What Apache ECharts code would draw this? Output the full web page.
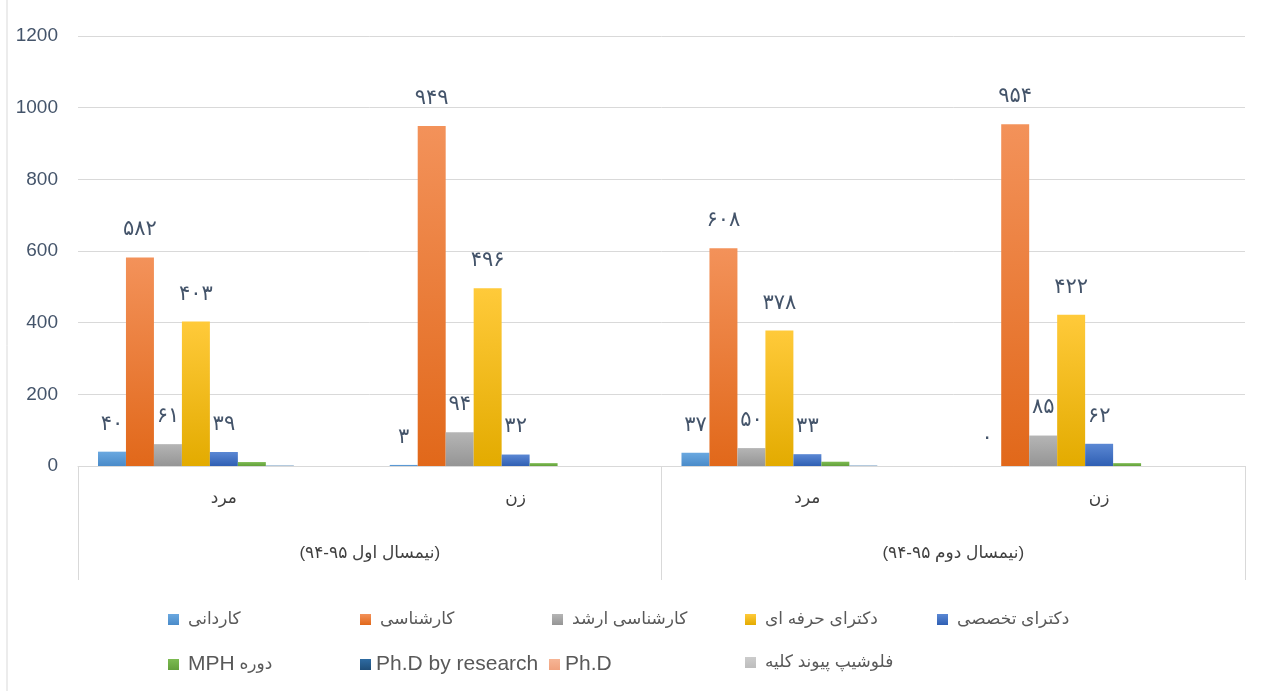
<!DOCTYPE html>
<html><head><meta charset="utf-8">
<script src="https://cdn.jsdelivr.net/npm/echarts@6/dist/echarts.min.js"></script>
<style>html,body{margin:0;padding:0;background:#fff}#main{width:1267px;height:691px}</style>
</head><body><div id="main" dir="rtl"></div>
<script>
// ---- data ----
const genders = ['مرد', 'زن', 'مرد', 'زن'];
const semesters = ['(نیمسال اول ۹۵-۹۴)', '(نیمسال دوم ۹۵-۹۴)'];
const seriesNames = ['کاردانی', 'کارشناسی', 'کارشناسی ارشد', 'دکترای حرفه ای', 'دکترای تخصصی', 'دوره MPH', 'Ph.D by research', 'Ph.D', 'فلوشیپ پیوند کلیه'];
const kardani = [40, 3, 37, 0];
const karshenasi = [582, 949, 608, 954];
const karshenasiArshad = [61, 94, 50, 85];
const doctoraHerfei = [403, 496, 378, 422];
const doctoraTakhassosi = [39, 32, 33, 62];
const mph = [11, 8, 12, 8];
const phdResearch = [1, 0, 1, 0];
const phd = [0, 0, 0, 0];
const fellowship = [0, 0, 0, 0];
const yMin = 0, yMax = 1200, yStep = 200;

const values = [kardani, karshenasi, karshenasiArshad, doctoraHerfei, doctoraTakhassosi, mph, phdResearch, phd, fellowship];
const labelled = [true, true, true, true, true, false, false, false, false];

// ---- styles ----
const grad = (a, b) => new echarts.graphic.LinearGradient(0, 0, 0, 1, [{offset: 0, color: a}, {offset: 1, color: b}]);
const colors = [
  grad('#6aa8e0', '#4a8bc9'),
  grad('#f3925a', '#e1681a'),
  grad('#b5b5b5', '#959595'),
  grad('#ffca3a', '#e3ab00'),
  grad('#5b88d4', '#2f5fb3'),
  grad('#7dbb52', '#63a03b'),
  grad('#2e6ba2', '#1f4e79'),
  grad('#f6b595', '#f1a27e'),
  grad('#cccccc', '#bdbdbd')
];
const FONT = "'Liberation Sans', 'DejaVu Sans', sans-serif";
const toFa = v => String(v).replace(/\d/g, d => '۰۱۲۳۴۵۶۷۸۹'[d]);

const legendLeft = [168, 360, 552, 745, 937, 168, 360, 549, 745];
const legendTop = [611, 611, 611, 611, 611, 654, 654, 654, 654];
const legendLatin = [false, false, false, false, false, 'mix', true, true, false];

const chart = echarts.init(document.getElementById('main'));
chart.setOption({
  animation: false,
  backgroundColor: '#ffffff',
  grid: {left: 78, right: 22, top: 36, bottom: 225},
  legend: seriesNames.map((n, i) => ({
    data: [n], left: legendLeft[i], top: legendTop[i], icon: 'rect', padding: 0,
    itemWidth: 11, itemHeight: 11, itemGap: 0,
    formatter: legendLatin[i] === 'mix' ? () => '{en|MPH} {fa|دوره}' : undefined,
    textStyle: {
      fontSize: legendLatin[i] === true ? 21 : 17, color: '#595959', fontFamily: FONT,
      padding: legendLatin[i] === true ? [0, 0, 0, 0] : [0, 0, 0, 4],
      rich: {
        en: {fontSize: 21, color: '#595959', fontFamily: FONT},
        fa: {fontSize: 17, color: '#595959', fontFamily: FONT}
      }
    }
  })),
  xAxis: [
    {
      type: 'category', data: genders, position: 'bottom',
      axisLine: {show: true, lineStyle: {color: '#d9d9d9', width: 1}},
      axisTick: {show: false},
      axisLabel: {margin: 24, fontSize: 17, color: '#404040', fontFamily: FONT}
    },
    {
      type: 'category', data: semesters, position: 'bottom',
      axisLine: {show: false},
      axisTick: {show: true, length: 114, lineStyle: {color: '#d9d9d9', width: 1}},
      axisLabel: {margin: 79, fontSize: 17, color: '#404040', fontFamily: FONT}
    }
  ],
  yAxis: {
    type: 'value', min: yMin, max: yMax, interval: yStep,
    axisLine: {show: false}, axisTick: {show: false},
    axisLabel: {margin: 20, fontSize: 19, color: '#44546a', fontFamily: FONT, formatter: v => String(v)},
    splitLine: {lineStyle: {color: '#d9d9d9', width: 1}}
  },
  graphic: [{type: 'line', shape: {x1: 7, y1: 0, x2: 7, y2: 691}, style: {stroke: '#d9d9d9', lineWidth: 1}}],
  series: seriesNames.map((n, i) => ({
    name: n, type: 'bar', xAxisIndex: 0, data: values[i],
    barGap: '0%', barCategoryGap: '13.7%',
    itemStyle: {color: colors[i]},
    label: {
      show: labelled[i], position: 'top', distance: 17,
      formatter: p => toFa(p.value),
      fontSize: 21, color: '#44546a', fontFamily: "'DejaVu Sans', sans-serif"
    }
  }))
});
</script></body></html>
